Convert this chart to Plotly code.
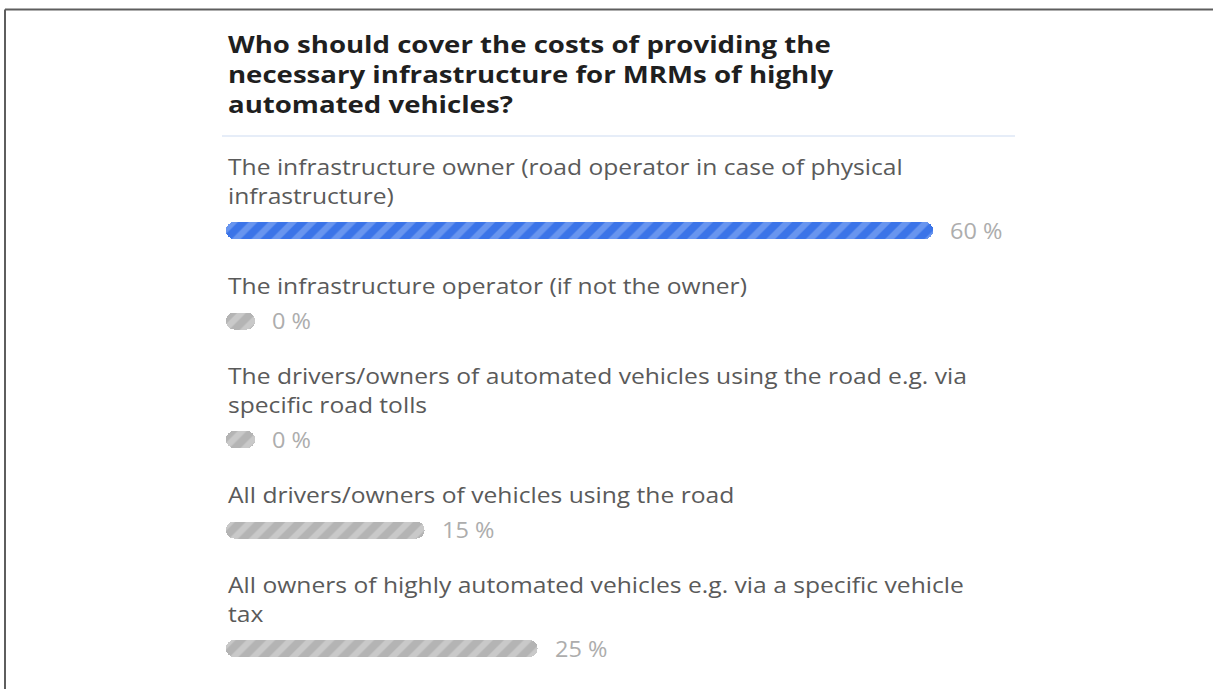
import plotly.graph_objects as go

# Survey question and answers
title_lines = [
    "Who should cover the costs of providing the",
    "necessary infrastructure for MRMs of highly",
    "automated vehicles?",
]
answer_lines = [
    ["The infrastructure owner (road operator in case of physical", "infrastructure)"],
    ["The infrastructure operator (if not the owner)"],
    ["The drivers/owners of automated vehicles using the road e.g. via", "specific road tolls"],
    ["All drivers/owners of vehicles using the road"],
    ["All owners of highly automated vehicles e.g. via a specific vehicle", "tax"],
]
shares = [60, 0, 0, 15, 25]  # percent of respondents
highlight = [True, False, False, False, False]

W, H = 1213, 689
LEFT = 226          # left edge of the content column (px)
PX_PER_PCT = 11.3   # horizontal scale
STUB_PX = 29        # minimum pill length so 0 % still shows
stub = STUB_PX / PX_PER_PCT
x_lo = -stub - LEFT / PX_PER_PCT
x_hi = x_lo + W / PX_PER_PCT

TITLE_SIZE = 23
LABEL_SIZE = 22
PCT_SIZE = 21
LINE_H = 1.3 * LABEL_SIZE   # plotly's multi-line spacing
ROW_LINE = 28               # vertical advance per extra label line
BAR_GAP = 36.5
ROW_GAP = 54
BAR_H = 17
# the poll widget renders its text slightly wide
TITLE_STRETCH = 1.2
TEXT_STRETCH = 1.12

BLUE, BLUE_STRIPE = "#3b74e8", "#6895ef"
GREY, GREY_STRIPE = "#b4b4b4", "#c9c9c9"

fig = go.Figure()
annotations = []

# title block
annotations.append(dict(
    x=LEFT / W, xref="paper", y=44 + (len(title_lines) - 1) * 1.3 * TITLE_SIZE / 2, yref="y",
    text="<br>".join(f"<b>{t}</b>" for t in title_lines), align="left",
    showarrow=False, xanchor="left", yanchor="middle",
    font=dict(family="Open Sans", size=TITLE_SIZE, color="#1f1f1f"),
))

# answer rows
label_y = 166
for lines, val, hi in zip(answer_lines, shares, highlight):
    annotations.append(dict(
        x=LEFT / W, xref="paper", y=label_y + (len(lines) - 1) * LINE_H / 2, yref="y",
        text="<br>".join(lines), align="left",
        showarrow=False, xanchor="left", yanchor="middle",
        font=dict(family="Open Sans", size=LABEL_SIZE, color="#5a5a5a"),
    ))
    bar_y = label_y + (len(lines) - 1) * ROW_LINE + BAR_GAP
    base_c, stripe_c = (BLUE, BLUE_STRIPE) if hi else (GREY, GREY_STRIPE)
    fig.add_trace(go.Bar(
        x=[val + stub], base=[-stub], y=[bar_y], orientation="h", width=BAR_H,
        marker=dict(
            color=base_c, line=dict(width=0), cornerradius=9,
            pattern=dict(shape="/", fgcolor=stripe_c, bgcolor=base_c,
                         size=14, solidity=0.45, fillmode="replace"),
        ),
        hoverinfo="skip", showlegend=False,
    ))
    annotations.append(dict(
        x=val, xref="x", y=bar_y, yref="y", xshift=15,
        text=f"{val} %", showarrow=False, xanchor="left", yanchor="middle",
        font=dict(family="Open Sans", size=PCT_SIZE, color="#adadad"),
    ))
    label_y = bar_y + ROW_GAP

shapes = [
    # thin separator under the question
    dict(type="line", xref="paper", yref="y", x0=222 / W, x1=1015 / W, y0=136, y1=136,
         line=dict(color="#e6edf8", width=2)),
    # frame edges
    dict(type="line", xref="paper", yref="paper", x0=5 / W, x1=1, y0=1 - 9.5 / H, y1=1 - 9.5 / H,
         line=dict(color="#5e5e5e", width=2)),
    dict(type="line", xref="paper", yref="paper", x0=5 / W, x1=5 / W, y0=0, y1=1 - 9.5 / H,
         line=dict(color="#5e5e5e", width=2)),
]

fig.update_layout(
    width=W, height=H, margin=dict(l=0, r=0, t=0, b=0),
    paper_bgcolor="white", plot_bgcolor="white",
    xaxis=dict(range=[x_lo, x_hi], visible=False, fixedrange=True),
    yaxis=dict(range=[H, 0], visible=False, fixedrange=True),
    annotations=annotations, shapes=shapes, bargap=0,
)

# widen the text glyphs horizontally, keeping each text's left edge in place
stretch_js = """
var gd = document.getElementById('{plot_id}');
gd.querySelectorAll('text.annotation-text').forEach(function (t) {
    var fs = parseFloat(t.style.fontSize || '0');
    var s = (fs === TSIZE) ? TSTRETCH : STRETCH;
    t.style.transformBox = 'fill-box';
    t.style.transformOrigin = '0% 50%';
    t.style.transform = 'scaleX(' + s + ')';
});
""".replace("TSIZE", str(TITLE_SIZE)).replace("TSTRETCH", str(TITLE_STRETCH)).replace(
    "STRETCH", str(TEXT_STRETCH))

fig.write_html("out.html", post_script=stretch_js, config={"staticPlot": True})
